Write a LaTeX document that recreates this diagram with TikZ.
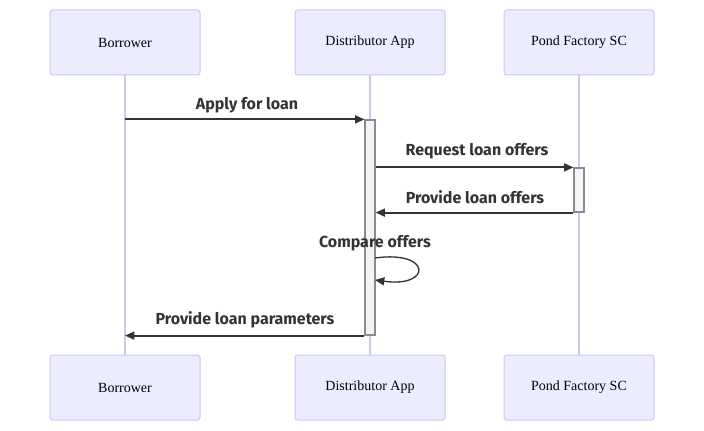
\documentclass[tikz,border=0pt]{standalone}
\usepackage{tikz}
\usetikzlibrary{arrows.meta}
\usepackage{fontspec}
\setmainfont{Liberation Serif}
\newfontfamily\msgfont{Fira Sans}
\usepackage{xcolor}
\definecolor{actorfill}{RGB}{236,236,255}
\definecolor{actorline}{RGB}{210,196,240}
\definecolor{actfill}{RGB}{244,244,244}
\definecolor{actline}{RGB}{140,140,140}
\definecolor{msgcol}{RGB}{51,51,51}
\tikzstyle{actor} = [rectangle,rounded corners=2pt,fill=actorfill,draw=actorline,line width=0.75pt,minimum width=112.5pt,minimum height=48.75pt,font=\fontsize{10.5}{12}\selectfont]
\tikzstyle{lifeline} = [actorline,line width=0.9pt]
\tikzstyle{activ} = [rectangle,fill=actfill,draw=actline,line width=0.9pt,minimum width=7.5pt,inner sep=0pt]
\tikzstyle{msg} = [msgcol,line width=1.4pt,-{Triangle[length=7pt,width=6pt]}]
\tikzstyle{msglabel} = [text=msgcol,font=\msgfont\fontsize{12}{14}\selectfont\bfseries]

\begin{document}
\begin{tikzpicture}[x=0.75pt,y=-0.75pt]
\useasboundingbox (0,0) rectangle (704,431);
\foreach \n/\x/\t in {bor/125/Borrower,dist/370/Distributor App,pond/579/Pond Factory SC} {
\node[actor] (\n-top) at (\x,42.5) {\t};
\node[actor] (\n-bot) at (\x,387.5) {\t};
\draw[lifeline] (\n-top) -- (\n-bot);
}

\node[activ,minimum height=161.25pt] (act1) at (370,227.5) {};
\node[activ,minimum height=33pt] (act2) at (579,190) {};

\node[msglabel] (l1) at (247,105.5) {Apply for loan};
\draw[msg] (bor-top |- act1.north west) -- (act1.north west);

\node[msglabel] (l2) at (477,151.5) {Request loan offers};
\draw[msg] (act1.east |- act2.north) -- (act2.north west);

\node[msglabel] (l3) at (475,197.5) {Provide loan offers};
\draw[msg] (act2.south west) -- (act1.east |- act2.south);

\node[msglabel] (l4) at (375,243.5) {Compare offers};
\coordinate (cmpA) at (375,258);
\coordinate (cmpB) at (375,280);
\draw[msg,line width=1pt] (cmpA) .. controls (432,250) and (432,288) .. (cmpB);

\node[msglabel] (l5) at (245,319.5) {Provide loan parameters};
\draw[msg] (act1.south west) -- (bor-bot |- act1.south west);
\end{tikzpicture}
\end{document}
